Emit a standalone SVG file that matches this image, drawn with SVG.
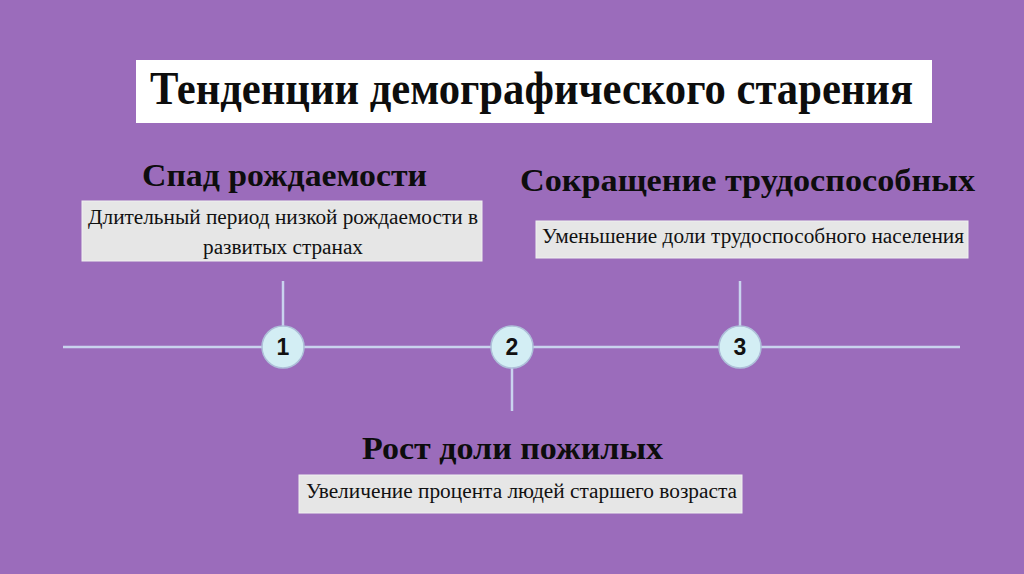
<svg xmlns="http://www.w3.org/2000/svg" width="1024" height="574" viewBox="0 0 1024 574">
<style>
.h{font-family:"Liberation Serif",serif;font-weight:bold;fill:#0d0d0d}
.d{font-family:"Liberation Serif",serif;font-size:20px;fill:#111}
.box{fill:#e6e6e6;stroke:#f0f0f0;stroke-width:1}
.ln{stroke:#c9d3ee;stroke-width:2.5;fill:none}
.cir{fill:#d3eef4;stroke:#aebfd9;stroke-width:1.5}
.num{font-family:"Liberation Sans",sans-serif;font-weight:bold;font-size:23px;fill:#111;text-anchor:middle}
</style>
<rect width="1024" height="574" fill="#9b6cbb"/>
<g id="title">
<rect x="136" y="60" width="796" height="63" fill="#ffffff"/>
<text class="h" x="150" y="104" font-size="46" textLength="763" lengthAdjust="spacingAndGlyphs">Тенденции демографического старения</text>
</g>
<g id="connectors">
<line class="ln" x1="63" y1="347" x2="960" y2="347"/>
<line class="ln" x1="283" y1="281" x2="283" y2="326"/>
<line class="ln" x1="512" y1="368" x2="512" y2="411"/>
<line class="ln" x1="740" y1="281" x2="740" y2="326"/>
</g>
<g id="node1">
<text class="h" x="142" y="186" font-size="32" textLength="285" lengthAdjust="spacingAndGlyphs">Спад рождаемости</text>
<rect class="box" x="82" y="201" width="400" height="60"/>
<text class="d" x="88" y="224" textLength="390" lengthAdjust="spacingAndGlyphs">Длительный период низкой рождаемости в</text>
<text class="d" x="203" y="254" textLength="160" lengthAdjust="spacingAndGlyphs">развитых странах</text>
<circle class="cir" cx="283" cy="347" r="21"/>
<text class="num" x="283" y="355">1</text>
</g>
<g id="node2">
<circle class="cir" cx="512" cy="347" r="21"/>
<text class="num" x="512" y="355">2</text>
<text class="h" x="362" y="459" font-size="32" textLength="301" lengthAdjust="spacingAndGlyphs">Рост доли пожилых</text>
<rect class="box" x="299" y="475" width="443" height="38"/>
<text class="d" x="306" y="498" textLength="431" lengthAdjust="spacingAndGlyphs">Увеличение процента людей старшего возраста</text>
</g>
<g id="node3">
<text class="h" x="520" y="191" font-size="32" textLength="455" lengthAdjust="spacingAndGlyphs">Сокращение трудоспособных</text>
<rect class="box" x="536" y="221" width="432" height="37"/>
<text class="d" x="542" y="243" textLength="422" lengthAdjust="spacingAndGlyphs">Уменьшение доли трудоспособного населения</text>
<circle class="cir" cx="740" cy="347" r="21"/>
<text class="num" x="740" y="355">3</text>
</g>
</svg>
